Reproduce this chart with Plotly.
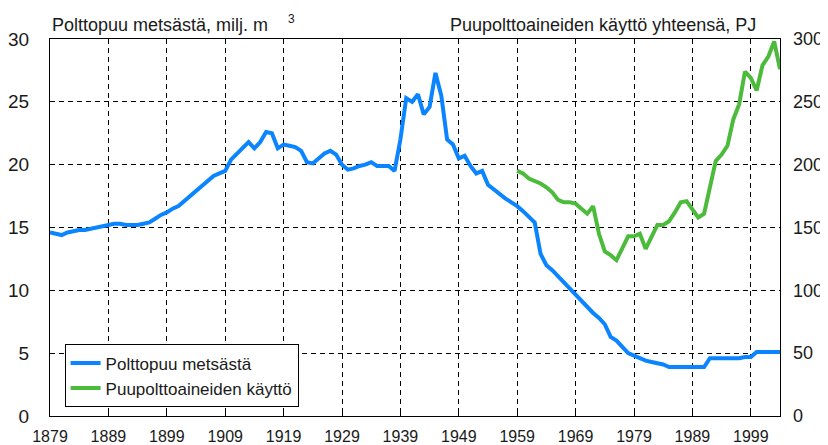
import plotly.graph_objects as go

years_wood = list(range(1879, 2005))
wood_forest = [
    14.6, 14.5, 14.4, 14.6, 14.7, 14.8, 14.8, 14.9, 15.0, 15.1,   # 1879-1888
    15.2, 15.3, 15.3, 15.2, 15.2, 15.2, 15.3, 15.4, 15.7, 16.0,   # 1889-1898
    16.2, 16.5, 16.7, 17.1, 17.5, 17.9, 18.2, 18.6, 19.1, 19.3,   # 1899-1908
    19.5, 20.4, 20.9, 21.4, 21.8, 21.3, 21.8, 22.6, 22.5, 21.3,   # 1909-1918
    21.6, 21.5, 21.4, 21.1, 20.2, 20.1, 20.5, 20.9, 21.1, 20.8,   # 1919-1928
    20.0, 19.6, 19.7, 19.9, 20.0, 20.2, 19.9, 19.9, 19.9, 19.5,   # 1929-1938
    22.0, 25.3, 25.0, 25.6, 24.0, 24.6, 27.3, 25.5, 22.0, 21.6,   # 1939-1948
    20.5, 20.7, 19.9, 19.3, 19.5, 18.4, 18.0, 17.6, 17.3, 17.0,   # 1949-1958
    16.7, 16.3, 15.8, 15.4, 12.9, 12.0, 11.6, 11.1, 10.6, 10.1,   # 1959-1968
    9.6, 9.2, 8.7, 8.2, 7.8, 7.3, 6.3, 6.0, 5.5, 5.0,             # 1969-1978
    4.8, 4.6, 4.4, 4.3, 4.2, 4.1, 3.9, 3.9, 3.9, 3.9,             # 1979-1988
    3.9, 3.9, 3.9, 4.6, 4.6, 4.6, 4.6, 4.6, 4.6, 4.7,             # 1989-1998
    4.7, 5.1, 5.1, 5.1, 5.1, 5.1,                                 # 1999-2004
]

years_fuel = list(range(1959, 2005))
wood_fuel_total = [
    195, 193, 189, 187, 185, 182, 178, 172, 170, 170,   # 1959-1968
    169, 165, 161, 167, 145, 131, 128, 124, 133, 143,   # 1969-1978
    143, 145, 133, 143, 152, 152, 155, 162, 170, 171,   # 1979-1988
    165, 158, 161, 182, 203, 208, 215, 236, 248, 274,   # 1989-1998
    269, 259, 279, 286, 298, 276,                       # 1999-2004
]

tick_years = list(range(1879, 2000, 10))

FONT = "Liberation Sans, Arial, sans-serif"
TXT = "#1a1a1a"
GRID_DASH = "5px,4px"

fig = go.Figure()
fig.add_trace(go.Scatter(x=years_wood, y=wood_forest, name="Polttopuu metsästä",
                         mode="lines", line=dict(color="#0a84ff", width=4)))
fig.add_trace(go.Scatter(x=years_fuel, y=wood_fuel_total, name="Puupolttoaineiden käyttö",
                         mode="lines", line=dict(color="#4cbb3c", width=4), yaxis="y2"))

# page body has an 8px margin, so the figure is a bit smaller than the window
fig.update_layout(
    width=820, height=437,
    margin=dict(l=42, r=48, t=31, b=29),
    paper_bgcolor="white", plot_bgcolor="white",
    font=dict(family=FONT, color=TXT),
    xaxis=dict(range=[1879, 2004], tickvals=tick_years, ticktext=[str(y) for y in tick_years],
               showgrid=True, gridcolor="black", griddash=GRID_DASH, gridwidth=1,
               showline=True, linecolor="black", linewidth=1, mirror=True,
               ticks="inside", ticklen=5, tickcolor="black", ticklabelstandoff=6,
               tickfont=dict(size=16), zeroline=False, automargin=False),
    yaxis=dict(range=[0, 30], tickvals=[0, 5, 10, 15, 20, 25, 30],
               showgrid=True, gridcolor="black", griddash=GRID_DASH, gridwidth=1,
               showline=True, linecolor="black", linewidth=1, mirror=True,
               ticks="", ticklabelstandoff=16, tickfont=dict(size=19), zeroline=False,
               automargin=False),
    yaxis2=dict(range=[0, 300], tickvals=[0, 50, 100, 150, 200, 250, 300],
                overlaying="y", side="right", showgrid=False, zeroline=False,
                ticks="", ticklabelstandoff=12, tickfont=dict(size=18), automargin=False),
    legend=dict(x=0.02, y=0.19, xanchor="left", yanchor="top",
                bgcolor="white", bordercolor="black", borderwidth=1,
                font=dict(size=17), itemwidth=30, tracegroupgap=0),
    showlegend=True,
)

fig.add_annotation(text="Polttopuu metsästä, milj. m", xref="paper", yref="paper",
                   x=0.0, y=1.0, xanchor="left", yanchor="bottom", xshift=0, yshift=2,
                   showarrow=False, font=dict(size=18))
fig.add_annotation(text="3", xref="paper", yref="paper",
                   x=0.0, y=1.0, xanchor="left", yanchor="bottom", xshift=236, yshift=11,
                   showarrow=False, font=dict(size=12))
fig.add_annotation(text="Puupolttoaineiden käyttö yhteensä, PJ", xref="paper", yref="paper",
                   x=1.0, y=1.0, xanchor="right", yanchor="bottom", xshift=-22, yshift=2,
                   showarrow=False, font=dict(size=18))

fig.write_html("out.html")
